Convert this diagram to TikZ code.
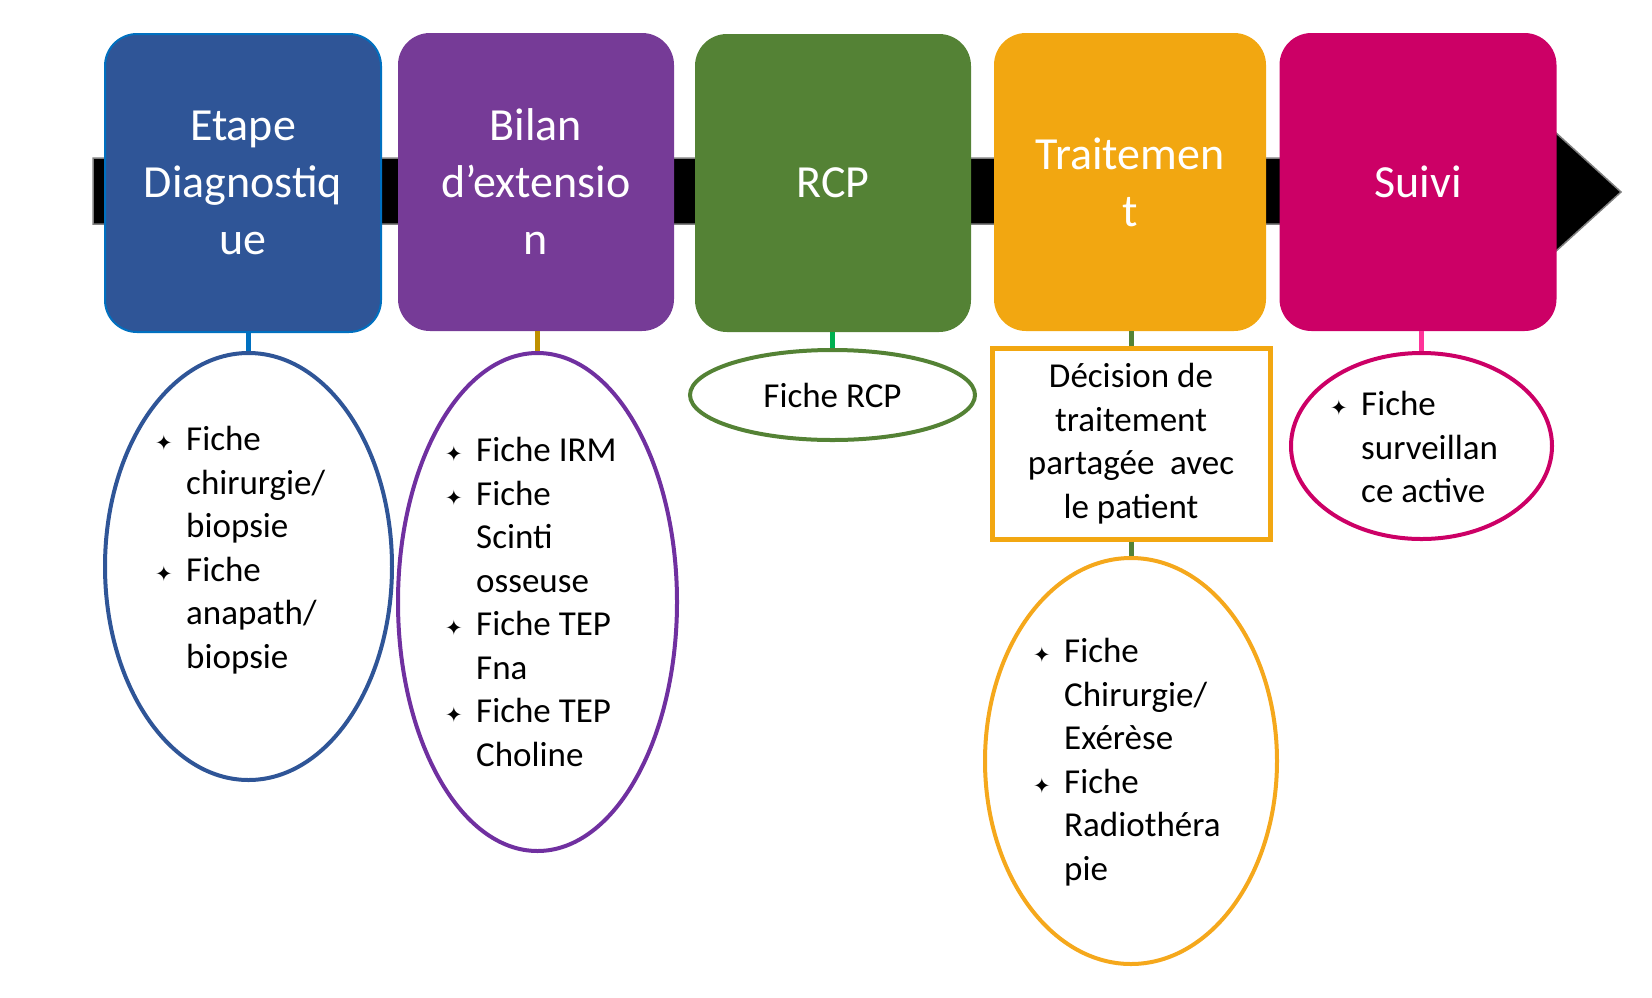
\documentclass[tikz,border=0pt]{standalone}
\usepackage{fontspec}
\setmainfont{Carlito}
\newfontfamily\symfont{DejaVu Sans}
\usetikzlibrary{shapes.geometric}
\definecolor{cBlue}{HTML}{2F5597}
\definecolor{cBlueEdge}{HTML}{0070C0}
\definecolor{cPurple}{HTML}{763B97}
\definecolor{cPurpleLine}{HTML}{7030A0}
\definecolor{cGreen}{HTML}{548235}
\definecolor{cOrange}{HTML}{F2A711}
\definecolor{cOrangeLine}{HTML}{F5A81C}
\definecolor{cMagenta}{HTML}{CC0066}
\definecolor{cStemBlue}{HTML}{0070C0}
\definecolor{cStemGold}{HTML}{BF9000}
\definecolor{cStemGreen}{HTML}{00B050}
\definecolor{cStemDark}{HTML}{548235}
\definecolor{cStemPink}{HTML}{FF3399}
\newcommand{\bul}{\makebox[31pt][l]{\raisebox{0pt}{\symfont\fontsize{21}{21}\selectfont ✦}}}
\newcommand{\ind}{\hspace*{31pt}}
\begin{document}
\begin{tikzpicture}[x=1pt,y=-1pt,
  stage/.style={rounded corners=32pt, minimum width=276pt, minimum height=298pt, inner sep=0pt,
    text=white, align=center, font=\fontsize{46}{57}\selectfont},
  oval/.style={ellipse, line width=4pt, inner sep=0pt},
  stem/.style={line width=5pt},
  listtext/.style={inner sep=0pt, align=left, anchor=north west, font=\fontsize{35}{43.5}\selectfont},
  smalltext/.style={font=\fontsize{35}{43.5}\selectfont}]
\useasboundingbox (0,0) rectangle (1652,997);
% timeline bar with arrow
\draw[gray, line width=1.5pt, fill=black] (93,158) -- (1555,158) -- (1555,132) -- (1621,192) -- (1555,252) -- (1555,224) -- (93,224) -- cycle;
% stage boxes
\node[stage, fill=cBlue, draw=cBlueEdge, line width=2pt] (b1) at (243,183) {Etape\\Diagnostiq\\ue};
\node[stage, fill=cPurple] (b2) at (536,182) {Bilan\\d’extensio\\n};
\node[stage, fill=cGreen] (b3) at (833,183) {RCP};
\node[stage, fill=cOrange, minimum width=272pt] (b4) at (1130,182) {Traitemen\\t};
\node[stage, fill=cMagenta, minimum width=277pt] (b5) at (1418,182) {Suivi};
% ellipses and box
\node[oval, draw=cBlue, minimum width=287pt, minimum height=427pt] (e1) at (248.5,566.5) {};
\node[oval, draw=cPurpleLine, minimum width=279pt, minimum height=498pt] (e2) at (537.5,602) {};
\node[oval, draw=cGreen, minimum width=285pt, minimum height=90pt, smalltext] (e3) at (832.5,395) {Fiche RCP};
\node[draw=cOrange, line width=5pt, minimum width=278pt, minimum height=191pt, inner sep=0pt, align=center, smalltext] (r4) at (1131,443.5) {Décision de\\traitement\\partagée\ \ avec\\le patient};
\node[oval, draw=cOrangeLine, minimum width=292pt, minimum height=406pt] (e4) at (1131,761) {};
\node[oval, draw=cMagenta, minimum width=261pt, minimum height=186pt] (e5) at (1421.5,446) {};
% stems
\draw[stem, cStemBlue] (b1.south -| e1.north) -- (e1.north);
\draw[stem, cStemGold] (b2.south -| e2.north) -- (e2.north);
\draw[stem, cStemGreen] (b3.south -| e3.north) -- (e3.north);
\draw[stem, cStemDark] (b4.south -| r4.north) -- (r4.north);
\draw[stem, cStemDark] (r4.south) -- (e4.north);
\draw[stem, cStemPink] (b5.south -| e5.north) -- (e5.north);
% list texts
\node[listtext] (t1) at (155,426) {\bul Fiche\\ \ind chirurgie/\\ \ind biopsie\\ \bul Fiche\\ \ind anapath/\\ \ind biopsie};
\node[listtext] (t2) at (445,437) {\bul Fiche IRM\\ \bul Fiche\\ \ind Scinti\\ \ind osseuse\\ \bul Fiche TEP\\ \ind Fna\\ \bul Fiche TEP\\ \ind Choline};
\node[listtext] (t4) at (1033,638) {\bul Fiche\\ \ind Chirurgie/\\ \ind Exérèse\\ \bul Fiche\\ \ind Radiothéra\\ \ind pie};
\node[listtext] (t5) at (1330,391) {\bul Fiche\\ \ind surveillan\\ \ind ce active};
\end{tikzpicture}
\end{document}
